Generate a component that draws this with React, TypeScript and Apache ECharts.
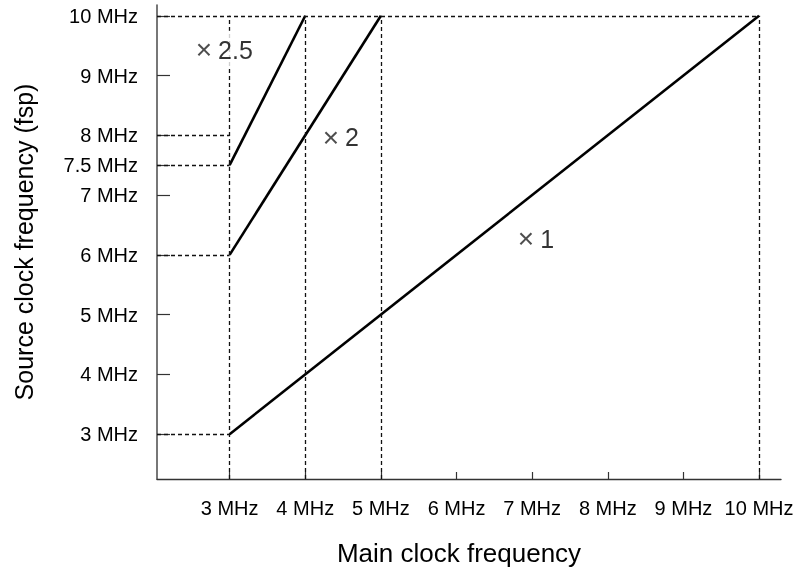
import React, { useEffect, useRef } from "react";
import * as echarts from "echarts";

// Axis ranges
const xMin = 2.04;
const xMax = 10.29;
const yMin = 2.25;
const yMax = 10.18;

// Tick values (MHz)
const xTickValues = [3, 4, 5, 6, 7, 8, 9, 10];
const yTickValues = [3, 4, 5, 6, 7, 7.5, 8, 9, 10];

// Multiplier lines: main clock (x) -> source clock (y)
const seriesNames = ["× 1", "× 2", "× 2.5"];
const mainClockX = [
  [3, 10],
  [3, 5],
  [3, 4],
];
const sourceClockY = [
  [3, 10],
  [6, 10],
  [7.5, 10],
];

// Multiplier label anchors (data coords)
const labelFactor = ["1", "2", "2.5"];
const labelX = [7.05, 4.47, 2.93];
const labelY = [6.27, 7.97, 9.43];

// Dashed guide lines
const hGuideY = [10, 8, 7.5, 6, 3];
const hGuideXEnd = [10, 3, 3, 3, 3];
const vGuideX = [3, 4, 5, 10];
const vGuideYEnd = [10, 10, 10, 10];

const FONT = "'Liberation Sans', Arial, Helvetica, sans-serif";

export default function App() {
  const ref = useRef<HTMLDivElement>(null);

  useEffect(() => {
    if (!ref.current) return;
    const chart = echarts.init(ref.current, undefined, { renderer: "svg" });

    const guideData: any[] = [];
    hGuideY.forEach((y, i) => {
      guideData.push([{ coord: [xMin, y] }, { coord: [hGuideXEnd[i], y] }]);
    });
    vGuideX.forEach((x, i) => {
      guideData.push([{ coord: [x, yMin] }, { coord: [x, vGuideYEnd[i]] }]);
    });

    const lineSeries = seriesNames.map((name, i) => ({
      type: "line",
      name,
      data: mainClockX[i].map((x, j) => [x, sourceClockY[i][j]]),
      symbol: "none",
      z: 4,
      lineStyle: { color: "#000", width: 2.6 },
    }));

    const option: any = {
      animation: false,
      textStyle: { fontFamily: FONT },
      grid: { left: 157, right: 21, top: 5, bottom: 95 },
      xAxis: {
        type: "value",
        min: xMin,
        max: xMax,
        name: "Main clock frequency",
        nameLocation: "middle",
        nameGap: 61,
        nameTextStyle: {
          fontSize: 26,
          color: "#000",
          fontFamily: FONT,
          padding: [0, 20, 0, 0],
        },
        axisLine: { show: true, lineStyle: { color: "#333", width: 1.4 } },
        axisTick: {
          show: true,
          inside: true,
          length: 7,
          customValues: xTickValues,
          lineStyle: { color: "#333", width: 1.2 },
        },
        axisLabel: {
          customValues: xTickValues,
          formatter: (v: number) => `${v} MHz`,
          fontSize: 20,
          color: "#000",
          margin: 19,
          fontFamily: FONT,
        },
        splitLine: { show: false },
      },
      yAxis: {
        type: "value",
        min: yMin,
        max: yMax,
        name: "Source clock frequency (fsp)",
        nameLocation: "middle",
        nameGap: 121,
        nameTextStyle: { fontSize: 25, color: "#000", fontFamily: FONT },
        axisLine: { show: true, lineStyle: { color: "#555", width: 1.6 } },
        axisTick: {
          show: true,
          inside: true,
          length: 13,
          customValues: yTickValues,
          lineStyle: { color: "#333", width: 1.2 },
        },
        axisLabel: {
          customValues: yTickValues,
          formatter: (v: number) => `${v} MHz`,
          fontSize: 20,
          color: "#000",
          margin: 19,
          fontFamily: FONT,
        },
        splitLine: { show: false },
      },
      series: [
        {
          type: "line",
          name: "guides",
          data: [],
          silent: true,
          z: 2,
          markLine: {
            silent: true,
            symbol: "none",
            label: { show: false },
            lineStyle: { color: "#111", width: 1.3, type: [4, 3] },
            data: guideData,
          },
        },
        ...lineSeries,
        {
          type: "scatter",
          name: "labels",
          z: 10,
          symbolSize: 1,
          silent: true,
          itemStyle: { color: "#fff" },
          data: labelFactor.map((f, i) => ({
            value: [labelX[i], labelY[i]],
            factor: f,
          })),
          label: {
            show: true,
            position: "inside",
            color: "#000",
            textBorderWidth: 0,
            backgroundColor: "#fff",
            padding: [6, 3],
            formatter: (p: any) => `{m|×}{n|${p.data.factor}}`,
            rich: {
              m: {
                fontSize: 28,
                color: "#222",
                fontFamily: FONT,
                lineHeight: 26,
                textBorderWidth: 0,
                padding: [0, 6, 0, 0],
              },
              n: {
                fontSize: 25,
                color: "#000",
                fontFamily: FONT,
                lineHeight: 26,
                textBorderWidth: 0,
              },
            },
          },
        },
      ],
    };

    chart.setOption(option);
    return () => chart.dispose();
  }, []);

  return (
    <div
      ref={ref}
      style={{ position: "fixed", left: 0, top: 0, width: 802, height: 574 }}
    />
  );
}
